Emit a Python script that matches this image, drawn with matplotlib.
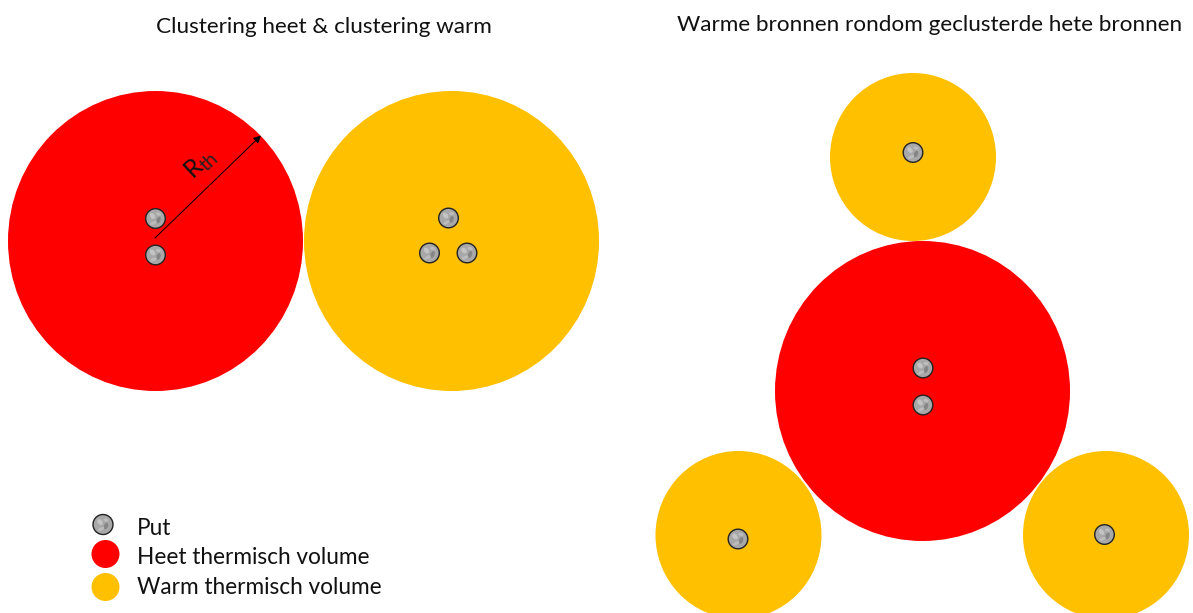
import matplotlib
matplotlib.use("Agg")
import matplotlib.pyplot as plt
from matplotlib.patches import Circle, Ellipse

W, H = 1193, 613
RED = "#ff0000"
AMBER = "#ffc000"

# thermal volumes, in picture pixels (the source shapes are slightly taller than wide)
hot_x = [155.5, 922.5]
hot_y = [241, 391]
hot_w = [295, 295]
hot_h = [300, 300]
warm_x = [451.5, 913, 738.5, 1106]
warm_y = [241, 157, 535, 535]
warm_w = [295, 166, 166, 166]
warm_h = [300, 168, 168, 168]

# wells
well_x = [155.5, 155.5, 448.5, 429.5, 467, 913, 923, 923, 738, 1104.5]
well_y = [218.5, 255, 218, 253, 253, 152.5, 368, 405, 539, 534.5]

titles = ["Clustering heet & clustering warm", "Warme bronnen rondom geclusterde hete bronnen"]
title_x = [324, 930]
title_y = [27, 25]

legend_labels = ["Put", "Heet thermisch volume", "Warm thermisch volume"]
legend_y = [528.5, 557.5, 587]


def draw_well(ax, x, y, r=9.8):
    ax.add_patch(Circle((x, y), r, fc="#a8a8a8", ec="none", zorder=5))
    ax.add_patch(Ellipse((x - 3, y - 2.5), 6.5, 4.5, angle=50, fc="#c4c4c4", ec="none", zorder=6))
    ax.add_patch(Ellipse((x + 3, y + 1.5), 4, 7, angle=20, fc="#858585", ec="none", zorder=6))
    ax.add_patch(Ellipse((x - 2, y + 4.5), 7, 3, angle=-25, fc="#bcbcbc", ec="none", zorder=6))
    ax.add_patch(Ellipse((x + 3, y - 4.5), 5, 3, angle=10, fc="#bdbdbd", ec="none", zorder=6))
    ax.add_patch(Circle((x, y), r, fc="none", ec="#222222", lw=1.0, zorder=7))


fig = plt.figure(figsize=(W / 100, H / 100), dpi=100)
ax = fig.add_axes([0, 0, 1, 1])
ax.set_xlim(0, W)
ax.set_ylim(H, 0)
ax.axis("off")

plt.rcParams["font.family"] = ["Lato", "DejaVu Sans"]

for x, y, w, h in zip(hot_x, hot_y, hot_w, hot_h):
    ax.add_patch(Ellipse((x, y), w, h, fc=RED, ec="none", zorder=2))
for x, y, w, h in zip(warm_x, warm_y, warm_w, warm_h):
    ax.add_patch(Ellipse((x, y), w, h, fc=AMBER, ec="none", zorder=2))

for x, y in zip(well_x, well_y):
    draw_well(ax, x, y)

for t, x, y in zip(titles, title_x, title_y):
    ax.text(x, y, t, ha="center", va="center", fontsize=16.18, color="#111111")

# radius arrow
ax.annotate("", xy=(261, 135.5), xytext=(155, 238),
            arrowprops=dict(arrowstyle="-|>", color="black", lw=0.7, mutation_scale=11, shrinkA=0, shrinkB=0),
            zorder=8)
ax.text(193, 167, "R", rotation=43, ha="center", va="center", fontsize=18, color="#111111", zorder=8)
ax.text(209, 162, "th", rotation=43, ha="center", va="center", fontsize=14, color="#222222", zorder=8)

# legend
draw_well(ax, 103, 524.5, r=10)
ax.add_patch(Circle((105.5, 554), 14, fc=RED, ec="none"))
ax.add_patch(Circle((105.5, 587), 14, fc=AMBER, ec="none"))
for t, y in zip(legend_labels, legend_y):
    ax.text(137, y, t, ha="left", va="center", fontsize=16.3, color="#111111")

fig.savefig("out.png", dpi=100)
